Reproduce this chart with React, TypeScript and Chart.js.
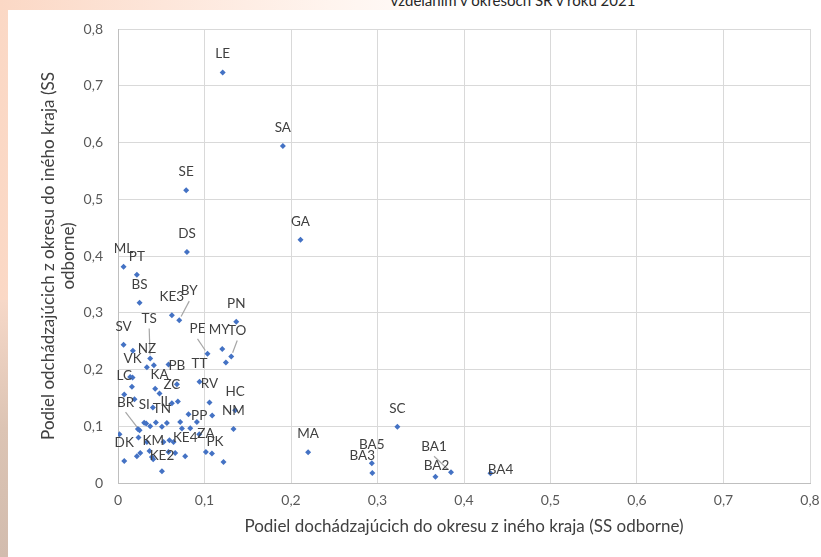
import React, { useEffect, useRef } from 'react';
import { Chart, registerables } from 'chart.js';

Chart.register(...registerables);

// ---- data ----
const districts: string[] = [
  'LE', 'SA', 'SE', 'GA', 'DS', 'ML', 'PT', 'BS', 'KE3', 'BY', 'PN', 'SV', 'TS', 'PE', 'MY', 'TO',
  'NZ', 'VK', 'PB', 'TT', 'LC', 'KA', 'ZC', 'RV', 'HC', 'BR', 'SI', 'IL', 'TN', 'NM', 'PP', 'DK',
  'KM', 'KE4', 'ZA', 'PK', 'KE2', 'MA', 'SC', 'BA5', 'BA3', 'BA1', 'BA2', 'BA4',
  '', '', '', '', '', '', '', '', '', '', '', '', '', '', '', '', '', '', '', '', '', '', '', '', '',
  '', '', '', '', '', '', '', '',
];

const inCommuteShare: number[] = [
  0.121, 0.1906, 0.0788, 0.211, 0.0797, 0.0064, 0.0218, 0.0249, 0.0623, 0.0708, 0.1367, 0.0064,
  0.0372, 0.1035, 0.1205, 0.1309, 0.0334, 0.0168, 0.0681, 0.0942, 0.0072, 0.048, 0.0623, 0.1058,
  0.1355, 0.0249, 0.0303, 0.0565, 0.0508, 0.1335, 0.0939, 0.0072, 0.0407, 0.0777, 0.1016, 0.1086,
  0.0508, 0.2198, 0.323, 0.2934, 0.294, 0.385, 0.367, 0.4306,
  0.0172, 0.0415, 0.0584, 0.1247, 0.0141, 0.0161, 0.0191, 0.043, 0.0403, 0.0692, 0.1089, 0.0912,
  0.0815, 0.0835, 0.122, 0.023, 0.0237, 0.0326, 0.0372, 0.0438, 0.0719, 0.0739, 0.0595, 0.0642,
  0.0584, 0.0661, 0.0218, 0.0257, 0.0364, 0.0392, 0.0017, 0.0334, 0.0526,
];

const outCommuteShare: number[] = [
  0.7235, 0.594, 0.516, 0.4288, 0.407, 0.381, 0.367, 0.3176, 0.2954, 0.287, 0.284, 0.2435,
  0.2195, 0.2276, 0.236, 0.223, 0.204, 0.186, 0.1742, 0.1782, 0.1561, 0.1578, 0.1406, 0.1419,
  0.1283, 0.093, 0.106, 0.1059, 0.099, 0.0953, 0.0859, 0.0388, 0.0418, 0.0472, 0.0547, 0.0519,
  0.0206, 0.054, 0.099, 0.0348, 0.0177, 0.019, 0.011, 0.017,
  0.233, 0.2077, 0.209, 0.2125, 0.187, 0.1694, 0.1476, 0.166, 0.133, 0.1435, 0.1189, 0.1076,
  0.1212, 0.0965, 0.037, 0.0953, 0.08, 0.1048, 0.1, 0.1066, 0.1076, 0.096, 0.0753, 0.0723,
  0.0547, 0.053, 0.0471, 0.053, 0.0565, 0.046, 0.086, 0.0723, 0.0723,
];

const tickLabels: string[] = ['0', '0,1', '0,2', '0,3', '0,4', '0,5', '0,6', '0,7', '0,8'];

const chartTitle = 'vzdelaním v okresoch SR v roku 2021';
const xTitle = 'Podiel dochádzajúcich do okresu z iného kraja (SS odborne)';
const yTitle = ['Podiel odchádzajúcich z okresu do iného kraja (SS', 'odborne)'];

// ---- label layout (pixel offsets of moved labels, not data) ----
const DEFAULT_LABEL_DY = -18.5;
const labelShift: Record<string, [number, number]> = {
  BY: [10, -29],
  TS: [-1, -40],
  PE: [-10, -25],
  TO: [6, -26],
  MY: [-3, -19],
  BR: [-14, -28],
  BA1: [-17, -26],
  BA2: [1, -11],
  BA4: [10, -4],
  BA3: [-10, -17],
  PK: [3, -12],
  KE2: [0, -16],
  IL: [-1, -21],
};
const leaderLabels = new Set(['BY', 'TS', 'PE', 'TO', 'BR', 'BA1']);

const FONT = 'Lato, "Open Sans", sans-serif';

const labelPlugin = {
  id: 'pointLabels',
  afterDatasetsDraw(chart: any) {
    const ctx = chart.ctx;
    const meta = chart.getDatasetMeta(0);
    ctx.save();
    ctx.font = `13.5px ${FONT}`;
    ctx.textAlign = 'center';
    ctx.textBaseline = 'middle';
    meta.data.forEach((pt: any, i: number) => {
      const name = districts[i];
      if (!name) return;
      const shift = labelShift[name] || [0, DEFAULT_LABEL_DY];
      const lx = pt.x + shift[0];
      const ly = pt.y + shift[1];
      if (leaderLabels.has(name)) {
        ctx.strokeStyle = '#a6a6a6';
        ctx.lineWidth = 1.2;
        ctx.beginPath();
        const sx = lx;
        const sy = ly + 10;
        const dx = pt.x - sx;
        const dy = pt.y - sy;
        const len = Math.sqrt(dx * dx + dy * dy) || 1;
        ctx.moveTo(sx, sy);
        ctx.lineTo(pt.x - (dx / len) * 4, pt.y - (dy / len) * 4);
        ctx.stroke();
      }
      ctx.fillStyle = '#404040';
      ctx.fillText(name, lx, ly);
    });
    ctx.restore();
  },
};

export default function App() {
  const canvasRef = useRef<HTMLCanvasElement | null>(null);

  useEffect(() => {
    if (!canvasRef.current) return;
    const points = inCommuteShare.map((x, i) => ({ x, y: outCommuteShare[i] }));
    const tickFont = { family: FONT, size: 14 };
    const chart = new Chart(canvasRef.current, {
      type: 'scatter',
      data: {
        datasets: [
          {
            data: points,
            pointStyle: 'rectRot',
            pointRadius: 3,
            backgroundColor: '#4472C4',
            borderColor: '#4472C4',
            borderWidth: 0,
          },
        ],
      },
      options: {
        responsive: false,
        animation: false,
        layout: { padding: { left: 30, right: 11, top: 29, bottom: 18 } },
        plugins: {
          legend: { display: false },
          tooltip: { enabled: false },
          title: { display: false },
        },
        scales: {
          x: {
            type: 'linear',
            min: 0,
            max: 0.8,
            ticks: {
              stepSize: 0.1,
              padding: 9,
              color: '#595959',
              font: tickFont,
              callback: (_v: any, i: number) => tickLabels[i],
            },
            grid: { color: '#d9d9d9', drawTicks: false, lineWidth: 1 },
            border: { color: '#bfbfbf', width: 1 },
            title: {
              display: true,
              text: xTitle,
              color: '#404040',
              font: { family: FONT, size: 17, lineHeight: 1.15 },
              padding: { top: 0, bottom: 3 },
            },
            afterFit: (s: any) => {
              s.height = 56;
              s.paddingLeft = 0;
              s.paddingRight = 0;
            },
          },
          y: {
            type: 'linear',
            min: 0,
            max: 0.8,
            ticks: {
              stepSize: 0.1,
              padding: 15,
              color: '#595959',
              font: tickFont,
              callback: (_v: any, i: number) => tickLabels[i],
            },
            grid: { color: '#d9d9d9', drawTicks: false, lineWidth: 1 },
            border: { color: '#bfbfbf', width: 1 },
            title: {
              display: true,
              text: yTitle,
              color: '#404040',
              font: { family: FONT, size: 17, lineHeight: 1.18 },
              padding: { top: 8, bottom: 0 },
            },
            afterFit: (s: any) => {
              s.width = 88;
              s.paddingTop = 0;
              s.paddingBottom = 0;
            },
          },
        },
      },
      plugins: [labelPlugin],
    } as any);
    return () => chart.destroy();
  }, []);

  return (
    <div
      style={{
        position: 'absolute',
        left: 0,
        top: 0,
        width: 821,
        height: 557,
        overflow: 'hidden',
        background: 'linear-gradient(90deg, #fbd8c5 0%, #fde6da 20%, #fff4ee 40%, #ffffff 60%)',
      }}
    >
      <div
        style={{
          position: 'absolute',
          left: 0,
          top: 300,
          width: 8,
          height: 257,
          background: 'linear-gradient(180deg, #f6d8c8 0%, #dcc4b4 50%, #d2bcae 100%)',
        }}
      />
      <div
        style={{
          position: 'absolute',
          left: 8,
          top: 10,
          width: 813,
          height: 547,
          background: '#ffffff',
        }}
      />
      <div
        style={{
          position: 'absolute',
          left: 0,
          top: -7,
          width: 1026,
          textAlign: 'center',
          font: `15px ${FONT}`,
          lineHeight: '15px',
          color: '#262626',
          whiteSpace: 'nowrap',
        }}
      >
        {chartTitle}
      </div>
      <canvas
        ref={canvasRef}
        width={821}
        height={557}
        style={{ position: 'absolute', left: 0, top: 0, width: 821, height: 557 }}
      />
    </div>
  );
}
